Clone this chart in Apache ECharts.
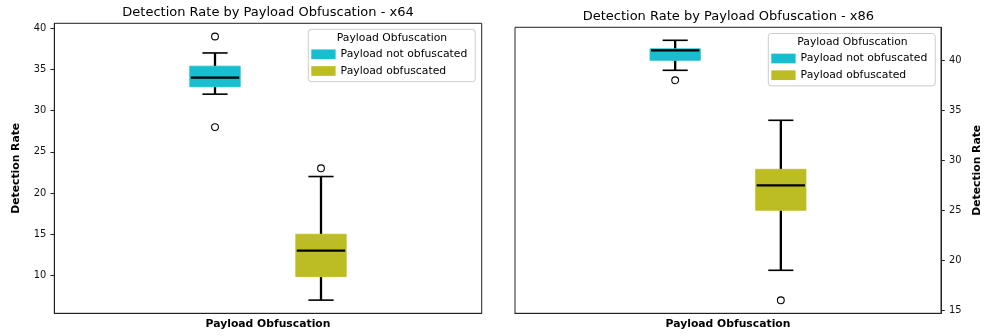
<!DOCTYPE html>
<html>
<head>
<meta charset="utf-8">
<script src="https://cdn.jsdelivr.net/npm/echarts@6/dist/echarts.min.js"></script>
<style>
html,body{margin:0;padding:0;background:#fff;}
#c{width:984px;height:336px;}
</style>
</head>
<body>
<div id="c"></div>
<script>
// ---- data ----
const hueGroups = ['Payload not obfuscated', 'Payload obfuscated'];
const xCategory = ['Payload Obfuscation'];
// box stats: [lower whisker, Q1, median, Q3, upper whisker]
const x64NotObf = [32, 32.9, 34, 35.4, 37];
const x64Obf = [7, 9.85, 13, 15, 22];
const x64NotObfOutliers = [39, 28];
const x64ObfOutliers = [23];
const x86NotObf = [39, 40, 41, 41.15, 42];
const x86Obf = [19, 25, 27.5, 29.1, 34];
const x86NotObfOutliers = [38];
const x86ObfOutliers = [16];
const x64Ticks = [10, 15, 20, 25, 30, 35, 40];
const x86Ticks = [15, 20, 25, 30, 35, 40];
const x64Range = [5.4, 40.6];
const x86Range = [14.7, 43.3];
const titles = ['Detection Rate by Payload Obfuscation - x64', 'Detection Rate by Payload Obfuscation - x86'];
const yName = 'Detection Rate';
const legendTitle = 'Payload Obfuscation';

// ---- styles ----
const FONT = 'DejaVu Sans';
const colors = ['#17becf', '#bcbd22'];
const hueOffset = [-0.124, 0.124];
const BOX_FRAC = 0.118;

function boxRender(offset, color) {
  return function (params, api) {
    const bw = api.size([1, 0])[0];
    const cx = api.coord([api.value(0), 0])[0] + offset * bw;
    const half = BOX_FRAC * bw / 2;
    const capHalf = half / 2;
    const yLo = api.coord([0, api.value(1)])[1];
    const yQ1 = api.coord([0, api.value(2)])[1];
    const yMed = api.coord([0, api.value(3)])[1];
    const yQ3 = api.coord([0, api.value(4)])[1];
    const yHi = api.coord([0, api.value(5)])[1];
    const wStyle = { stroke: '#000', lineWidth: 2.3 };
    const cStyle = { stroke: '#000', lineWidth: 1.6 };
    return {
      type: 'group',
      children: [
        { type: 'line', shape: { x1: cx, y1: yQ3, x2: cx, y2: yHi }, style: wStyle },
        { type: 'line', shape: { x1: cx, y1: yQ1, x2: cx, y2: yLo }, style: wStyle },
        { type: 'line', shape: { x1: cx - capHalf, y1: yHi, x2: cx + capHalf, y2: yHi }, style: cStyle },
        { type: 'line', shape: { x1: cx - capHalf, y1: yLo, x2: cx + capHalf, y2: yLo }, style: cStyle },
        { type: 'rect', shape: { x: cx - half, y: yQ3, width: 2 * half, height: yQ1 - yQ3 }, style: { fill: color, stroke: color, lineWidth: 0.8 } },
        { type: 'line', shape: { x1: cx - half + 1, y1: yMed, x2: cx + half - 1, y2: yMed }, style: { stroke: '#000', lineWidth: 2.2 } }
      ]
    };
  };
}
function outlierRender(offset) {
  return function (params, api) {
    const bw = api.size([1, 0])[0];
    const p = api.coord([api.value(0), api.value(1)]);
    return { type: 'circle', shape: { cx: p[0] + offset * bw, cy: p[1], r: 3.4 }, style: { fill: '#fff', stroke: '#000', lineWidth: 1.1 } };
  };
}

const statsSets = [[x64NotObf, x64Obf], [x86NotObf, x86Obf]];
const outlierSets = [[x64NotObfOutliers, x64ObfOutliers], [x86NotObfOutliers, x86ObfOutliers]];

const series = [];
for (let g = 0; g < 2; g++) {
  for (let h = 0; h < 2; h++) {
    series.push({
      type: 'custom', name: hueGroups[h], xAxisIndex: g, yAxisIndex: g,
      itemStyle: { color: colors[h] },
      encode: { x: 0, y: [1, 2, 3, 4, 5] },
      renderItem: boxRender(hueOffset[h], colors[h]),
      data: [[0].concat(statsSets[g][h])],
      silent: true, z: 3
    });
    series.push({
      type: 'custom', name: 'outliers-' + g + '-' + h, xAxisIndex: g, yAxisIndex: g,
      encode: { x: 0, y: 1 },
      renderItem: outlierRender(hueOffset[h]),
      data: outlierSets[g][h].map(v => [0, v]),
      silent: true, z: 4
    });
  }
}

const grids = [
  { left: 54.3, right: 984 - 481.7, top: 23.3, bottom: 336 - 313.3 },
  { left: 515, right: 984 - 941.7, top: 27.3, bottom: 336 - 313.3 }
];
const ranges = [x64Range, x86Range];
const ticks = [x64Ticks, x86Ticks];

const option = {
  animation: false,
  backgroundColor: '#fff',
  title: [
    { text: titles[0], left: 268, top: 6, textAlign: 'center', padding: 0, textStyle: { fontFamily: FONT, fontSize: 13, fontWeight: 'normal', color: '#000' } },
    { text: titles[1], left: 728.4, top: 10, textAlign: 'center', padding: 0, textStyle: { fontFamily: FONT, fontSize: 13, fontWeight: 'normal', color: '#000' } }
  ],
  grid: grids.map(g => Object.assign({ show: true, borderColor: '#222', borderWidth: 1, backgroundColor: '#fff', containLabel: false }, g)),
  xAxis: [0, 1].map(i => ({
    type: 'category', gridIndex: i, data: xCategory,
    name: 'Payload Obfuscation', nameLocation: 'middle', nameGap: 5,
    nameTextStyle: { fontFamily: FONT, fontSize: 10.8, fontWeight: 'bold', color: '#000', verticalAlign: 'top' },
    axisLine: { show: true, lineStyle: { color: '#222', width: 1 } },
    axisTick: { show: false }, axisLabel: { show: false }, splitLine: { show: false }
  })),
  yAxis: [0, 1].map(i => ({
    type: 'value', gridIndex: i, position: i === 0 ? 'left' : 'right',
    min: ranges[i][0], max: ranges[i][1],
    name: yName, nameLocation: 'middle', nameGap: i === 0 ? 33 : 31,
    nameTextStyle: { fontFamily: FONT, fontSize: 10.8, fontWeight: 'bold', color: '#000' },
    axisLine: { show: true, lineStyle: { color: '#222', width: 1 } },
    axisTick: { show: true, length: 3.8, customValues: ticks[i], lineStyle: { color: '#222', width: 1 } },
    axisLabel: { show: true, margin: 8, customValues: ticks[i], fontFamily: FONT, fontSize: 9.9, color: '#111' },
    splitLine: { show: false }
  })),
  legend: [
    { left: 308.3, top: 29.3 },
    { left: 768.3, top: 33.5 }
  ].map(p => ({
    left: p.left, top: p.top, orient: 'vertical',
    data: hueGroups.map(n => ({ name: n, icon: 'rect' })),
    itemWidth: 24.3, itemHeight: 9.7, itemGap: 3.7, itemTextGap: 8,
    padding: [18.5, 8, 4.2, 3],
    backgroundColor: 'rgba(255,255,255,0.8)', borderColor: '#cccccc', borderWidth: 1, borderRadius: 3,
    selectedMode: false,
    textStyle: { fontFamily: FONT, fontSize: 10.8, color: '#000', lineHeight: 13 }
  })),
  graphic: [
    { type: 'text', x: 392, y: 38.3, z: 100, style: { text: legendTitle, align: 'center', verticalAlign: 'middle', font: '10.8px "DejaVu Sans"', fill: '#000' } },
    { type: 'text', x: 852.5, y: 42.3, z: 100, style: { text: legendTitle, align: 'center', verticalAlign: 'middle', font: '10.8px "DejaVu Sans"', fill: '#000' } }
  ],
  series: series
};

const chart = echarts.init(document.getElementById('c'), null, { renderer: 'canvas' });
chart.setOption(option);
</script>
</body>
</html>
